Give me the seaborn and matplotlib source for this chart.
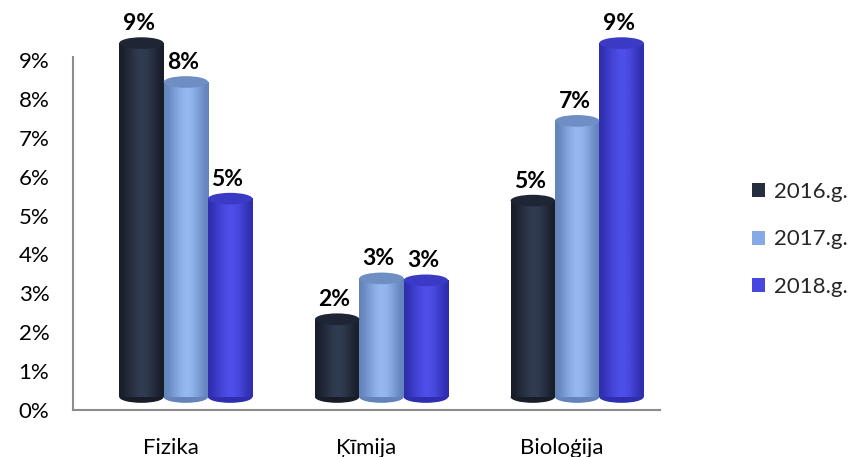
import matplotlib
matplotlib.use("Agg")
import matplotlib.pyplot as plt
import matplotlib.transforms as mtransforms
import seaborn as sns
import pandas as pd
import numpy as np
from matplotlib.patches import Ellipse, Patch
from matplotlib.colors import LinearSegmentedColormap

categories = ["Fizika", "Ķīmija", "Bioloģija"]
years = ["2016.g.", "2017.g.", "2018.g."]
v2016 = [9.1, 2.0, 5.05]
v2017 = [8.1, 3.05, 7.1]
v2018 = [5.1, 3.0, 9.1]
yticks = [0, 1, 2, 3, 4, 5, 6, 7, 8, 9]

colors = ["#252D3F", "#86AAE6", "#4747E0"]
dark = ["#181D29", "#6383BA", "#2E2EAE"]
light = ["#323C53", "#97BAF2", "#5050EC"]
caps = ["#1E2535", "#6E8EC4", "#3A3AC4"]

rows = []
for yr, vals in zip(years, [v2016, v2017, v2018]):
    for c, v in zip(categories, vals):
        rows.append({"subject": c, "year": yr, "value": v})
df = pd.DataFrame(rows)

sns.set_style("white")
plt.rcParams["font.family"] = ["Lato", "DejaVu Sans"]

fig = plt.figure(figsize=(8.56, 4.57), dpi=100)
ax = fig.add_axes([73 / 856, 1 - 410 / 457, (660 - 73) / 856, (410 - 60) / 457])

sns.barplot(data=df, x="subject", y="value", hue="year", order=categories,
            hue_order=years, palette=colors, saturation=1, width=0.68,
            ax=ax, legend=False, errorbar=None)

ax.set_xlim(-0.5, 2.5)
ax.set_ylim(0, 9)

# 3D depth effect: bars sit slightly back (up and to the right)
depth = ax.transData + mtransforms.ScaledTranslation(0.15, 0.13, fig.dpi_scale_trans)

grad = np.array([[0.0, 0.3, 0.6, 0.85, 1.0, 0.9, 0.65, 0.3, 0.0]])
for i, cont in enumerate(ax.containers):
    cmap = LinearSegmentedColormap.from_list(f"g{i}", [dark[i], light[i]])
    for bar in cont:
        bar.set_visible(False)
        x0 = bar.get_x(); w = bar.get_width(); h = bar.get_height()
        ax.add_patch(Ellipse((x0 + w / 2, 0), w, 0.3, facecolor=dark[i],
                             edgecolor="none", zorder=2, clip_on=False,
                             transform=depth))
        ax.imshow(grad, extent=[x0, x0 + w, 0, h], aspect="auto", cmap=cmap,
                  interpolation="bicubic", zorder=2.5, clip_on=False,
                  transform=depth)
        ax.add_patch(Ellipse((x0 + w / 2, h), w, 0.3, facecolor=caps[i],
                             edgecolor="none", zorder=3, clip_on=False,
                             transform=depth))
        ax.annotate(f"{round(h)}%", (x0 + w / 2, h), xycoords=depth,
                    xytext=(-2, 6.5), textcoords="offset points", ha="center",
                    va="bottom", fontsize=16.5, fontweight="bold",
                    color="black", annotation_clip=False)

ax.set_xlim(-0.5, 2.5)
ax.set_ylim(0, 9)
ax.set_yticks(yticks)
ax.set_yticklabels([f"{t}%" for t in yticks])
ax.set_xlabel("")
ax.set_ylabel("")
ax.tick_params(axis="both", length=0, labelsize=16, colors="black")
ax.tick_params(axis="y", pad=17)
ax.tick_params(axis="x", pad=20)
for s in ["top", "right"]:
    ax.spines[s].set_visible(False)
for s in ["left", "bottom"]:
    ax.spines[s].set_color("#8C8C8C")
    ax.spines[s].set_linewidth(1.5)
ax.spines["left"].set_bounds(0, 9.08)

handles = [Patch(facecolor=c, edgecolor="none") for c in colors]
fig.legend(handles, years, loc="upper left",
           bbox_to_anchor=(743 / 856, 1 - 173 / 457), frameon=False,
           fontsize=16, handlelength=0.6, handleheight=0.6,
           handletextpad=0.4, labelspacing=1.24, borderaxespad=0)

fig.savefig("out.png", dpi=100)
